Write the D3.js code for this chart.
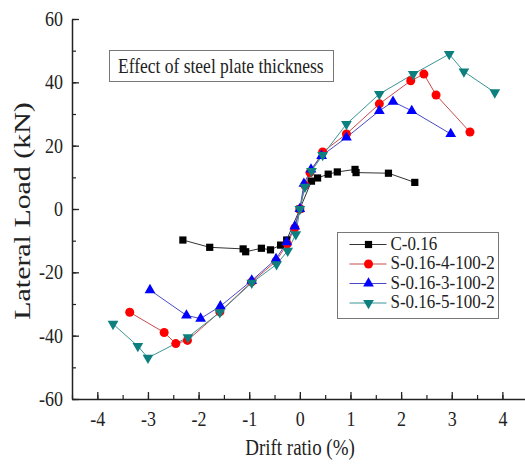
<!DOCTYPE html>
<html>
<head>
<meta charset="utf-8">
<script src="https://cdn.jsdelivr.net/npm/d3@7"></script>
<style>
  body { margin: 0; background: #fff; }
  svg { display: block; }
  text { font-family: "Liberation Serif", "Times New Roman", serif; fill: #222; }
</style>
</head>
<body>
<svg id="chart" width="525" height="471"></svg>
<script>
// Skeleton curves: drift ratio (%) vs lateral load (kN)
const seriesNames = ["C-0.16", "S-0.16-4-100-2", "S-0.16-3-100-2", "S-0.16-5-100-2"];

const c016Drift = [-2.31, -1.78, -1.12, -1.07, -0.76, -0.58, -0.38, -0.26, 0, 0.23, 0.35, 0.56, 0.74, 1.09, 1.11, 1.75, 2.27];
const c016Load  = [-9.8, -12.1, -12.6, -13.5, -12.4, -12.9, -11.4, -9.8, 0, 8.8, 9.8, 11.0, 11.7, 12.5, 11.5, 11.3, 8.4];

const s4Drift = [-3.36, -2.68, -2.45, -2.22, -1.58, -0.95, -0.47, -0.25, -0.1, 0, 0.1, 0.2, 0.45, 0.92, 1.57, 2.19, 2.45, 2.69, 3.36];
const s4Load  = [-32.6, -39.0, -42.5, -41.5, -32.5, -23.0, -16.5, -11.0, -6.0, 0, 7.5, 11.5, 18.0, 23.7, 33.2, 40.5, 42.6, 36.0, 24.3];

const s3Drift = [-2.96, -2.24, -1.96, -1.57, -0.95, -0.47, -0.26, -0.1, 0, 0.08, 0.22, 0.43, 0.92, 1.57, 1.84, 2.21, 2.98];
const s3Load  = [-25.6, -33.6, -34.6, -30.7, -22.6, -15.8, -10.5, -5.5, 0, 8.0, 12.5, 16.8, 22.6, 31.0, 33.9, 31.0, 23.7];

const s5Drift = [-3.69, -3.20, -3.00, -2.21, -1.58, -0.95, -0.46, -0.24, -0.08, 0, 0.1, 0.23, 0.45, 0.92, 1.57, 2.24, 2.95, 3.24, 3.85];
const s5Load  = [-36.3, -43.3, -47.0, -40.5, -32.6, -23.3, -17.5, -13.2, -8.0, 0, 7.0, 12.0, 17.0, 26.8, 36.3, 42.6, 48.9, 43.4, 36.8];

const xTicks = [-4, -3, -2, -1, 0, 1, 2, 3, 4];
const yTicks = [-60, -40, -20, 0, 20, 40, 60];
const xMinorTicks = d3.range(-4.5, 4.51, 0.5);
const yMinorTicks = d3.range(-60, 60.1, 10);

const titleText = "Effect of steel plate thickness";
const xTitle = "Drift ratio (%)";
const yTitle = "Lateral Load (kN)";

// Text in this figure is set slightly tall
const SY = 1.2;

const svg = d3.select("#chart");
const plotLeft = 72, plotRight = 527.7, plotTop = 19, plotBottom = 399;

const x = d3.scaleLinear().domain([-4.5, 4.5]).range([plotLeft, plotRight]);
const y = d3.scaleLinear().domain([-60, 60]).range([plotBottom, plotTop]);

const series = [
  { name: seriesNames[0], xs: c016Drift, ys: c016Load, fill: "#000000", line: "#333333", symbol: d3.symbolSquare, size: 52, rot: 0 },
  { name: seriesNames[1], xs: s4Drift, ys: s4Load, fill: "#ff0000", line: "#cc4a4a", symbol: d3.symbolCircle, size: 64, rot: 0 },
  { name: seriesNames[2], xs: s3Drift, ys: s3Load, fill: "#0000ff", line: "#4a4ac8", symbol: d3.symbolTriangle, size: 50, rot: 0 },
  { name: seriesNames[3], xs: s5Drift, ys: s5Load, fill: "#0e7f7f", line: "#3a9595", symbol: d3.symbolTriangle, size: 50, rot: 180 }
];

// Tick labels use a plain hyphen for negatives
const plainFormat = d => String(d);

// Minor ticks (inward)
svg.append("g").attr("transform", `translate(0,${plotBottom})`)
  .call(d3.axisBottom(x).tickValues(xMinorTicks).tickSizeInner(-4).tickSizeOuter(0).tickFormat(""))
  .call(g => g.select(".domain").remove())
  .call(g => g.selectAll("line").attr("stroke", "#222").attr("stroke-width", 1.2));
svg.append("g").attr("transform", `translate(${plotLeft},0)`)
  .call(d3.axisLeft(y).tickValues(yMinorTicks).tickSizeInner(-4).tickSizeOuter(0).tickFormat(""))
  .call(g => g.select(".domain").remove())
  .call(g => g.selectAll("line").attr("stroke", "#222").attr("stroke-width", 1.2));

// Major axes
const xAxis = svg.append("g").attr("transform", `translate(0,${plotBottom})`)
  .call(d3.axisBottom(x).tickValues(xTicks).tickSizeInner(-7).tickSizeOuter(0).tickPadding(10).tickFormat(plainFormat));
const yAxis = svg.append("g").attr("transform", `translate(${plotLeft},0)`)
  .call(d3.axisLeft(y).tickValues(yTicks).tickSizeInner(-7).tickSizeOuter(0).tickPadding(9).tickFormat(plainFormat));

[xAxis, yAxis].forEach(g => {
  g.select(".domain").attr("stroke", "#222").attr("stroke-width", 1.5);
  g.selectAll(".tick line").attr("stroke", "#222").attr("stroke-width", 1.3);
  g.selectAll(".tick text")
    .style("font-family", '"Liberation Serif", "Times New Roman", serif')
    .style("font-size", "18px").attr("fill", "#222");
});
xAxis.selectAll(".tick text").attr("transform", `scale(1,${SY})`);
yAxis.selectAll(".tick text").attr("transform", `scale(1,${SY})`).attr("dy", "0.3em");

// Axis titles
svg.append("text")
  .attr("transform", `translate(300,455) scale(1,${SY})`)
  .attr("text-anchor", "middle").style("font-size", "19px").text(xTitle);
svg.append("text")
  .attr("transform", `translate(30,211) scale(1,1.3) rotate(-90)`)
  .attr("text-anchor", "middle").style("font-size", "23px").text(yTitle);

// Curves
const line = d3.line().x(d => x(d[0])).y(d => y(d[1]));
series.forEach(s => {
  const pts = s.xs.map((v, i) => [v, s.ys[i]]);
  svg.append("path").datum(pts)
    .attr("d", line).attr("fill", "none")
    .attr("stroke", s.line).attr("stroke-width", 1);
});
series.forEach(s => {
  const pts = s.xs.map((v, i) => [v, s.ys[i]]);
  const sym = d3.symbol().type(s.symbol).size(s.size);
  svg.append("g").selectAll("path").data(pts).join("path")
    .attr("d", sym)
    .attr("transform", d => `translate(${x(d[0])},${y(d[1])}) rotate(${s.rot})`)
    .attr("fill", s.fill);
});

// Title box
svg.append("rect").attr("x", 109.5).attr("y", 50.5).attr("width", 224).attr("height", 31)
  .attr("fill", "#fff").attr("stroke", "#777").attr("stroke-width", 1);
svg.append("text")
  .attr("transform", `translate(118,73) scale(1,${SY})`)
  .style("font-size", "17.5px").text(titleText);

// Legend
const lg = svg.append("g");
const lgX = 337.5, lgY = 232.5, rowH = 19.5;
lg.append("rect").attr("x", lgX).attr("y", lgY).attr("width", 161).attr("height", 86)
  .attr("fill", "#fff").attr("stroke", "#777").attr("stroke-width", 1);
series.forEach((s, i) => {
  const cy = lgY + 12 + i * rowH;
  lg.append("line").attr("x1", lgX + 12).attr("x2", lgX + 49).attr("y1", cy).attr("y2", cy)
    .attr("stroke", s.line).attr("stroke-width", 1);
  lg.append("path").attr("d", d3.symbol().type(s.symbol).size(s.size)())
    .attr("transform", `translate(${lgX + 31},${cy}) rotate(${s.rot})`).attr("fill", s.fill);
  lg.append("text").attr("transform", `translate(${lgX + 53},${cy + 5}) scale(1,1.08)`)
    .style("font-size", "17px").text(s.name);
});
</script>
</body>
</html>
